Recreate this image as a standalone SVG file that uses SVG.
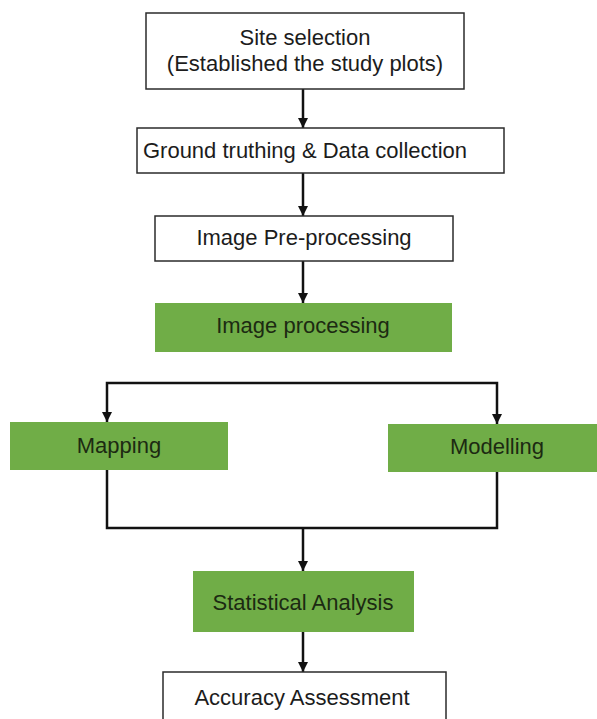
<svg xmlns="http://www.w3.org/2000/svg" width="597" height="719" viewBox="0 0 597 719">
  <style>
    .box { fill: #ffffff; stroke: #2b2b2b; stroke-width: 1.5; }
    .green { fill: #70ad47; stroke: none; }
    .label { font-family: "Liberation Sans", Arial, sans-serif; font-size: 22px; fill: #1c1c1c; text-anchor: middle; }
    .glabel { fill: #1c2a12; }
    .wire { fill: none; stroke: #111111; stroke-width: 2.5; }
  </style>
  <defs>
    <marker id="arrow" viewBox="0 0 10 10" refX="10" refY="5" markerWidth="4" markerHeight="4" markerUnits="strokeWidth" orient="auto">
      <path d="M0,0 L10,5 L0,10 Z" fill="#111111"/>
    </marker>
  </defs>
  <rect width="597" height="719" fill="#ffffff"/>

  <g id="connectors">
    <path class="wire" d="M303,89 V128" marker-end="url(#arrow)"/>
    <path class="wire" d="M303,173 V216" marker-end="url(#arrow)"/>
    <path class="wire" d="M303,261 V303" marker-end="url(#arrow)"/>
    <path class="wire" d="M303,383 H107 V422" marker-end="url(#arrow)"/>
    <path class="wire" d="M303,383 H497 V424" marker-end="url(#arrow)"/>
    <path class="wire" d="M107,470 V528 H497 V472"/>
    <path class="wire" d="M303,528 V571" marker-end="url(#arrow)"/>
    <path class="wire" d="M303,632 V672" marker-end="url(#arrow)"/>
  </g>

  <g id="site-selection">
    <rect class="box" x="146" y="13" width="318" height="76"/>
    <text class="label" x="305" y="45">Site selection</text>
    <text class="label" x="305" y="71">(Established the study plots)</text>
  </g>

  <g id="ground-truthing">
    <rect class="box" x="137" y="128" width="367" height="45"/>
    <text class="label" x="305" y="158">Ground truthing &amp; Data collection</text>
  </g>

  <g id="image-preprocessing">
    <rect class="box" x="155" y="216" width="298" height="45"/>
    <text class="label" x="304" y="245">Image Pre-processing</text>
  </g>

  <g id="image-processing">
    <rect class="green" x="155" y="303" width="297" height="49"/>
    <text class="label glabel" x="303" y="333">Image processing</text>
  </g>

  <g id="mapping">
    <rect class="green" x="10" y="422" width="218" height="48"/>
    <text class="label glabel" x="119" y="453">Mapping</text>
  </g>

  <g id="modelling">
    <rect class="green" x="388" y="424" width="209" height="48"/>
    <text class="label glabel" x="497" y="454">Modelling</text>
  </g>

  <g id="statistical-analysis">
    <rect class="green" x="193" y="571" width="221" height="61"/>
    <text class="label glabel" x="303" y="610">Statistical Analysis</text>
  </g>

  <g id="accuracy-assessment">
    <rect class="box" x="163" y="672" width="283" height="60"/>
    <text class="label" x="302" y="705">Accuracy Assessment</text>
  </g>
</svg>
